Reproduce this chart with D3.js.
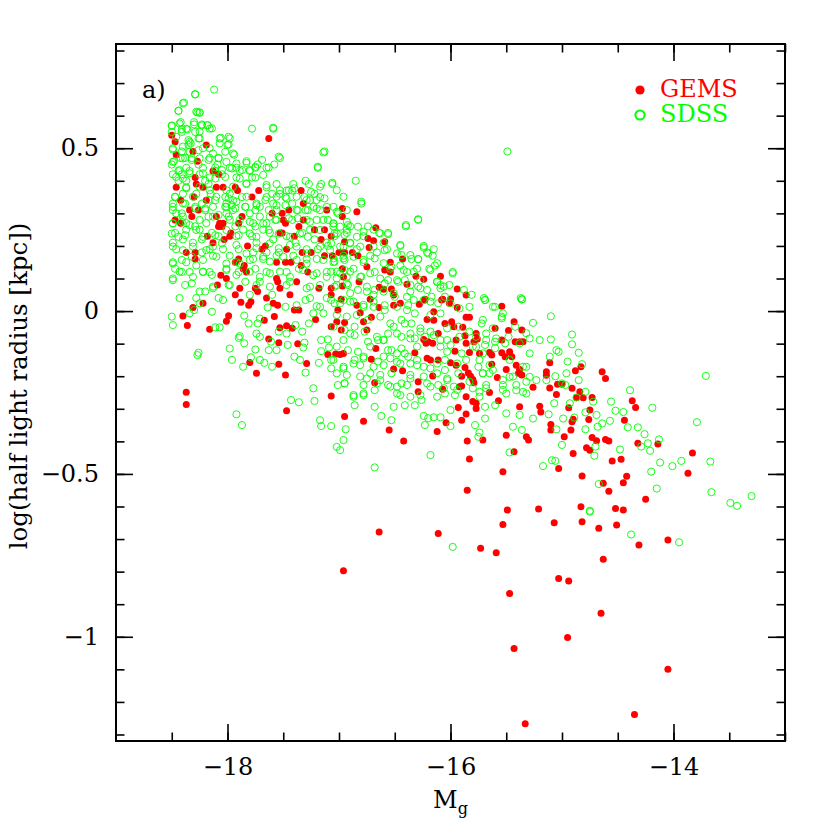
<!DOCTYPE html>
<html>
<head>
<meta charset="utf-8">
<script src="https://cdn.jsdelivr.net/npm/d3@7"></script>
<style>
  body { margin: 0; background: #fff; }
  svg { display: block; }
  text { font-family: "DejaVu Serif", serif; }
</style>
</head>
<body>
<div id="chart"></div>
<script>
// GEMS galaxies: [Mg, log r_half]
var gems = [
  [-18.50,0.54],[-18.47,0.52],[-18.46,0.48],[-18.31,0.49],[-18.19,0.51],[-17.63,0.53],[-18.27,0.46],[-18.13,0.43],[-18.08,0.42],[-18.29,0.41],
  [-18.28,0.39],[-18.46,0.38],[-18.22,0.38],[-18.10,0.38],[-18.04,0.38],[-17.93,0.38],[-17.91,0.37],[-17.72,0.37],[-17.78,0.35],[-18.42,0.34],
  [-18.30,0.35],[-18.19,0.34],[-18.34,0.31],[-18.26,0.31],[-18.32,0.29],[-18.47,0.28],[-18.42,0.27],[-18.10,0.29],[-18.07,0.27],[-18.04,0.27],
  [-18.08,0.26],[-18.05,0.26],[-17.90,0.27],[-17.87,0.29],[-17.60,0.30],[-17.51,0.30],[-17.48,0.27],[-17.50,0.28],[-17.45,0.31],[-17.32,0.33],
  [-17.34,0.37],[-17.11,0.31],[-17.36,0.26],[-17.40,0.23],[-17.32,0.28],[-17.51,0.24],[-17.53,0.24],[-17.97,0.24],[-18.03,0.22],[-17.98,0.23],
  [-18.18,0.23],[-18.13,0.21],[-17.82,0.20],[-17.66,0.20],[-17.69,0.19],[-18.37,0.18],[-18.29,0.18],[-18.29,0.16],[-17.47,0.19],[-17.33,0.18],
  [-17.25,0.18],[-17.22,0.25],[-17.13,0.25],[-17.16,0.22],[-17.07,0.23],[-17.13,0.17],[-17.06,0.17],[-17.56,0.15],[-17.48,0.15],[-17.43,0.15],
  [-17.34,0.14],[-17.28,0.12],[-17.93,0.15],[-17.90,0.16],[-17.85,0.14],[-17.86,0.13],[-17.83,0.12],[-18.06,0.11],[-18.01,0.10],[-18.09,0.08],
  [-17.56,0.10],[-17.55,0.09],[-17.38,0.09],[-17.18,0.07],[-17.07,0.07],[-17.07,0.05],[-17.89,0.07],[-17.75,0.07],[-17.73,0.06],[-17.93,0.05],
  [-17.65,0.04],[-17.53,0.07],[-17.44,0.05],
  [-16.97,0.315],[-16.97,0.29],[-16.84,0.305],[-16.67,0.256],[-16.74,0.223],[-16.69,0.216],[-16.59,0.213],[-16.73,0.195],[-16.95,0.213],[-17.00,0.18],
  [-16.95,0.18],[-16.88,0.18],[-16.83,0.17],[-16.54,0.15],[-16.43,0.16],[-16.75,0.136],[-16.97,0.13],[-16.59,0.126],[-16.54,0.12],[-16.96,0.105],
  [-16.82,0.09],[-16.31,0.107],[-16.24,0.098],[-16.09,0.107],[-16.39,0.082],[-16.97,0.077],[-16.64,0.073],[-16.60,0.067],[-16.53,0.068],[-16.51,0.049],
  [-15.94,0.068],[-15.86,0.049],[-16.23,0.036],[-16.07,0.036],[-16.00,0.037],[-16.72,0.036],[-16.98,0.036],
  [-18.40,-0.015],[-18.31,0.011],[-18.22,0.024],[-18.36,-0.044],[-18.16,-0.056],[-17.99,-0.014],[-18.01,-0.031],[-17.88,0.027],[-17.81,0.018],[-17.79,0.029],
  [-17.67,-0.028],[-17.59,0.024],[-17.55,0.018],[-17.58,-0.017],[-17.63,-0.086],[-17.54,-0.097],[-17.53,-0.051],[-17.47,-0.045],[-17.42,-0.053],[-17.40,0.003],
  [-17.36,0.003],[-17.21,-0.026],[-17.37,-0.10],[-17.29,-0.161],[-17.54,-0.163],[-17.48,-0.196],[-17.74,-0.191],[-17.80,-0.158],[-18.37,-0.249],[-18.37,-0.287],
  [-17.47,-0.306],[-17.07,-0.261],[-17.10,-0.133],[-17.03,-0.132],[-17.07,-0.048],[-17.02,-0.033],[-17.01,0.003],
  [-16.84,0.018],[-16.81,-0.005],[-16.71,-0.019],[-16.64,0.011],[-16.51,0.018],[-16.45,0.024],[-16.28,0.021],[-16.23,0.034],[-16.08,0.034],[-16.01,0.024],
  [-15.94,0.011],[-15.54,0.015],[-16.95,-0.035],[-16.98,-0.058],[-16.75,-0.058],[-16.78,-0.033],[-16.21,-0.026],[-16.15,-0.002],[-16.15,-0.028],[-16.05,-0.038],
  [-15.99,-0.033],[-15.97,-0.048],[-15.89,-0.05],[-15.86,-0.019],[-15.83,-0.019],[-16.11,-0.069],[-16.24,-0.087],[-16.20,-0.094],[-16.16,-0.099],[-16.22,-0.099],
  [-15.77,-0.069],[-15.87,-0.076],[-15.95,-0.089],[-15.86,-0.099],[-15.79,-0.094],[-15.76,-0.086],[-15.60,-0.053],[-15.48,-0.06],[-15.43,-0.033],[-15.36,-0.058],
  [-15.54,-0.089],[-15.42,-0.094],[-15.38,-0.094],[-15.35,-0.094],[-16.67,-0.115],[-16.32,-0.128],[-16.21,-0.145],[-16.18,-0.15],[-16.11,-0.15],[-15.96,-0.123],
  [-15.83,-0.127],[-15.74,-0.13],[-15.65,-0.127],[-15.63,-0.135],[-15.54,-0.128],[-15.47,-0.125],[-15.45,-0.14],[-15.51,-0.14],[-16.96,-0.13],[-16.99,-0.133],
  [-16.71,-0.148],[-16.00,-0.159],[-15.95,-0.166],[-15.87,-0.173],[-16.51,-0.178],[-16.43,-0.183],[-15.63,-0.163],[-15.50,-0.179],[-15.41,-0.166],[-15.38,-0.179],
  [-15.39,-0.191],[-15.36,-0.196],[-15.84,-0.19],[-15.82,-0.2],[-15.80,-0.21],[-15.90,-0.2],[-15.79,-0.22],[-15.58,-0.204],[-15.26,-0.234],[-16.68,-0.22],
  [-16.29,-0.217],[-16.16,-0.199],[-15.92,-0.232],[-15.90,-0.23],[-16.07,-0.24],[-16.29,-0.248],[-15.86,-0.263],[-15.65,-0.25],[-15.57,-0.275],[-15.80,-0.278],
  [-15.77,-0.283],[-15.77,-0.299],[-15.93,-0.296],[-15.86,-0.316],[-15.90,-0.335],[-15.38,-0.294],[-16.95,-0.324],[-16.78,-0.338],[-16.55,-0.365],[-16.42,-0.399],
  [-16.12,-0.37],[-16.04,-0.343],[-15.85,-0.399],[-15.71,-0.396],[-15.50,-0.381],[-15.32,-0.386],[-15.30,-0.396],[-15.43,-0.432],[-15.83,-0.454],[-15.53,-0.493],
  [-15.85,-0.55],[-15.49,-0.611],[-15.21,-0.608],
  [-15.11,-0.159],[-15.14,-0.186],[-15.14,-0.197],[-15.11,-0.236],[-15.04,-0.225],[-15.00,-0.225],[-15.05,-0.256],[-15.20,-0.292],[-15.19,-0.31],[-15.10,-0.348],
  [-15.10,-0.365],[-14.98,-0.386],[-14.91,-0.237],[-14.88,-0.183],[-14.83,-0.171],[-14.87,-0.266],[-14.84,-0.248],[-14.81,-0.266],[-14.73,-0.265],[-14.94,-0.297],
  [-14.75,-0.304],[-14.76,-0.333],[-14.91,-0.34],[-14.90,-0.332],[-14.92,-0.365],[-14.64,-0.186],[-14.61,-0.207],[-14.37,-0.275],[-14.34,-0.296],[-14.44,-0.335],
  [-14.73,-0.388],[-14.69,-0.398],[-14.61,-0.394],[-14.58,-0.399],[-14.78,-0.42],[-14.75,-0.427],[-14.90,-0.437],[-14.32,-0.406],[-14.14,-0.408],[-13.83,-0.436],
  [-14.55,-0.46],[-14.47,-0.455],[-15.03,-0.483],[-14.82,-0.506],[-13.87,-0.498],[-14.42,-0.507],[-14.45,-0.527],[-14.63,-0.529],[-14.58,-0.553],[-14.25,-0.578],
  [-14.83,-0.601],[-14.52,-0.606],[-14.45,-0.611],
  [-16.64,-0.678],[-16.11,-0.683],[-16.96,-0.797],[-15.53,-0.655],[-15.07,-0.65],[-14.82,-0.647],[-14.67,-0.667],[-14.51,-0.657],[-15.73,-0.728],[-15.59,-0.742],
  [-14.31,-0.718],[-14.05,-0.703],[-14.63,-0.762],[-15.03,-0.821],[-14.94,-0.829],[-15.47,-0.867],[-14.65,-0.928],[-14.95,-1.002],[-15.43,-1.036],[-14.05,-1.10],
  [-14.35,-1.239],[-15.33,-1.267]
];

// SDSS galaxies: [Mg, log r_half]
var sdss = [
  [-18.12,0.68],[-18.29,0.665],[-18.39,0.64],[-18.44,0.615],[-18.27,0.61],[-18.25,0.61],[-18.50,0.57],[-18.42,0.58],[-18.30,0.58],[-18.23,0.57],
  [-18.18,0.57],[-18.37,0.56],[-18.41,0.55],[-18.29,0.55],[-18.16,0.56],[-17.78,0.56],[-17.59,0.56],[-18.50,0.55],[-18.07,0.53],[-17.98,0.53],
  [-18.34,0.52],[-18.26,0.53],[-18.00,0.51],[-18.49,0.50],[-18.41,0.49],[-18.35,0.51],[-18.22,0.50],[-17.94,0.48],[-17.53,0.47],[-17.13,0.49],
  [-17.19,0.44],[-18.48,0.46],[-18.42,0.47],[-18.38,0.47],[-18.32,0.47],[-18.16,0.47],[-18.08,0.47],[-18.50,0.45],[-18.26,0.45],[-18.22,0.44],
  [-18.09,0.45],[-18.37,0.44],[-17.92,0.44],[-17.83,0.46],[-17.75,0.44],[-17.65,0.44],[-17.58,0.45],[-17.73,0.45],[-17.98,0.44],[-18.11,0.43],
  [-18.05,0.42],[-18.44,0.43],[-18.34,0.43],[-18.49,0.42],[-18.41,0.42],[-18.25,0.42],[-18.16,0.41],[-17.89,0.43],[-17.80,0.43],[-18.44,0.40],
  [-18.37,0.40],[-18.20,0.40],[-17.92,0.41],[-17.75,0.41],[-18.37,0.38],[-18.17,0.39],[-17.83,0.39],[-17.65,0.38],[-17.56,0.39],[-17.41,0.39],
  [-17.47,0.37],[-17.27,0.39],[-17.16,0.39],[-17.06,0.39],[-18.47,0.35],[-18.40,0.36],[-18.28,0.36],[-18.15,0.36],[-18.02,0.35],[-17.98,0.36],
  [-17.60,0.36],[-17.53,0.36],[-17.42,0.37],[-17.22,0.36],[-17.17,0.35],[-18.49,0.33],[-18.23,0.33],[-18.11,0.34],[-18.01,0.33],[-17.95,0.34],
  [-17.87,0.35],[-17.74,0.33],[-17.65,0.35],[-17.48,0.35],[-17.31,0.35],[-17.26,0.34],[-18.49,0.32],[-18.38,0.33],[-18.29,0.32],[-18.13,0.32],
  [-18.02,0.32],[-17.95,0.31],[-17.84,0.32],[-17.75,0.31],[-17.59,0.33],[-17.42,0.33],[-17.23,0.32],[-17.05,0.32],[-18.46,0.30],[-18.40,0.29],
  [-18.20,0.31],[-18.13,0.29],[-18.01,0.30],[-17.80,0.30],[-17.71,0.29],[-17.56,0.31],[-17.38,0.31],[-17.28,0.31],[-17.17,0.31],[-17.01,0.30],
  [-18.49,0.27],[-18.37,0.27],[-18.29,0.26],[-18.19,0.27],[-17.98,0.28],[-17.93,0.26],[-17.77,0.27],[-17.65,0.27],[-17.57,0.28],[-17.42,0.28],
  [-17.29,0.28],[-17.20,0.28],[-17.10,0.28],[-18.47,0.24],[-18.37,0.25],[-18.25,0.25],[-18.14,0.24],[-17.86,0.25],[-17.75,0.26],[-17.68,0.25],
  [-17.62,0.24],[-17.33,0.24],[-17.26,0.25],[-17.05,0.26],[-18.49,0.21],[-18.40,0.22],[-18.31,0.21],[-18.23,0.22],[-18.08,0.23],[-17.92,0.23],
  [-17.78,0.23],[-17.74,0.21],[-17.59,0.22],[-17.47,0.23],[-17.39,0.21],[-17.22,0.22],[-17.11,0.21],[-17.04,0.23],[-18.46,0.19],[-18.23,0.18],
  [-18.16,0.19],[-18.04,0.19],[-17.90,0.19],[-17.77,0.18],[-17.65,0.18],[-17.54,0.18],[-17.41,0.17],[-17.29,0.19],[-17.19,0.19],[-17.10,0.20],
  [-18.49,0.15],[-18.47,0.13],[-18.37,0.15],[-18.28,0.14],[-18.13,0.17],[-17.98,0.17],[-17.92,0.15],[-17.77,0.16],[-17.68,0.16],[-17.56,0.17],
  [-17.29,0.16],[-17.20,0.16],[-17.05,0.15],[-18.49,0.10],[-18.41,0.12],[-18.34,0.12],[-18.22,0.12],[-18.16,0.12],[-18.01,0.13],[-17.90,0.12],
  [-17.75,0.13],[-17.65,0.12],[-17.47,0.12],[-17.36,0.13],[-17.23,0.11],[-17.11,0.12],[-17.02,0.10],[-18.38,0.08],[-18.25,0.06],[-18.20,0.06],
  [-18.13,0.07],[-17.98,0.08],[-17.84,0.09],[-17.71,0.09],[-17.44,0.09],[-17.29,0.07],[-17.17,0.08],[-18.43,0.04],[-18.28,0.04],[-18.08,0.04],
  [-17.80,0.05],[-17.60,0.05],[-17.26,0.04],[-17.11,0.04],
  [-18.29,0.666],[-18.40,0.638],[-18.44,0.615],[-18.28,0.612],[-18.25,0.609],[-18.50,0.568],[-18.43,0.576],[-18.41,0.558],[-18.36,0.558],[-18.30,0.573],
  [-18.23,0.573],[-18.18,0.571],[-18.14,0.561],[-18.25,0.551],[-17.59,0.563],[-18.46,0.535],[-18.35,0.525],[-18.33,0.515],[-18.25,0.530],[-18.06,0.532],
  [-17.99,0.535],[-18.07,0.515],[-17.99,0.512],[-18.40,0.505],[-18.49,0.496],[-18.34,0.489],[-18.26,0.494],[-18.16,0.5],[-18.13,0.484],[-18.02,0.489],
  [-17.95,0.484],[-18.49,0.458],[-18.40,0.469],[-18.32,0.464],[-18.25,0.469],[-18.17,0.464],[-18.08,0.469],[-18.01,0.458],[-17.92,0.453],[-17.83,0.455],
  [-17.75,0.443],[-17.69,0.464],[-17.63,0.441],[-17.54,0.474],[-17.19,0.443],[-17.14,0.487],[-17.96,0.438],[-18.05,0.433],[-18.11,0.441],[-18.43,0.433],
  [-18.46,0.412],[-18.34,0.423],[-18.40,0.407],[-18.22,0.423],[-18.11,0.407],[-18.02,0.412],[-17.87,0.433],[-17.80,0.433],[-17.68,0.418],[-17.89,0.407],
  [-17.78,0.410],[-17.83,0.392],[-17.65,0.387],[-17.30,0.40],[-17.06,0.394],[-17.25,0.366],[-17.17,0.382],[-17.53,0.371],[-17.45,0.371],[-17.40,0.377],
  [-17.56,0.351],[-17.47,0.346],[-17.38,0.351],[-17.29,0.341],[-17.20,0.341],[-17.13,0.346],[-17.02,0.371],[-16.96,0.351],[-18.37,0.377],[-18.25,0.382],
  [-18.16,0.371],[-18.01,0.371],[-17.95,0.382],[-18.47,0.351],[-18.40,0.331],[-18.31,0.351],[-18.17,0.341],[-18.10,0.351],[-17.99,0.346],[-17.92,0.336],
  [-17.83,0.351],[-17.74,0.325],[-17.66,0.341],[-18.49,0.310],[-18.41,0.30],[-18.29,0.315],[-18.20,0.315],[-18.01,0.320],[-17.96,0.325],[-17.93,0.315],
  [-17.84,0.320],[-17.71,0.320],[-17.63,0.310],[-17.56,0.325],[-17.48,0.325],[-17.37,0.310],[-17.30,0.310],[-17.20,0.315],[-17.11,0.320],[-17.02,0.305],
  [-16.93,0.310],[-18.49,0.269],[-18.41,0.274],[-18.34,0.264],[-18.25,0.28],[-18.17,0.29],[-18.08,0.295],[-17.99,0.29],[-17.89,0.28],[-17.80,0.274],
  [-17.68,0.269],[-17.62,0.29],[-17.56,0.28],[-17.45,0.285],[-17.37,0.285],[-17.26,0.274],[-17.14,0.28],[-17.05,0.269],[-16.93,0.274],[-18.50,0.238],
  [-18.44,0.228],[-18.38,0.233],[-18.28,0.249],[-18.22,0.228],[-18.11,0.233],[-18.01,0.249],[-17.90,0.233],[-17.80,0.238],[-17.74,0.228],[-17.63,0.249],
  [-17.54,0.238],[-17.44,0.228],[-17.35,0.238],[-17.28,0.228],[-17.17,0.249],[-17.02,0.238],[-16.93,0.249],[-18.49,0.198],[-18.40,0.187],[-18.31,0.198],
  [-18.19,0.187],[-18.13,0.198],[-18.05,0.208],[-17.92,0.203],[-17.83,0.177],[-17.74,0.193],[-17.62,0.208],[-17.54,0.193],[-17.44,0.203],[-17.38,0.198],
  [-17.29,0.177],[-17.17,0.198],[-17.08,0.187],[-16.96,0.198],[-18.49,0.146],[-18.41,0.157],[-18.32,0.167],[-18.22,0.157],[-18.10,0.167],[-18.01,0.146],
  [-17.89,0.146],[-17.80,0.157],[-17.68,0.167],[-17.62,0.152],[-17.50,0.167],[-17.38,0.157],[-17.29,0.146],[-17.14,0.157],[-17.04,0.152],[-16.95,0.157],
  [-18.49,0.095],[-18.43,0.121],[-18.31,0.105],[-18.22,0.121],[-18.14,0.111],[-18.01,0.126],[-17.92,0.111],[-17.80,0.121],[-17.71,0.105],[-17.62,0.116],
  [-17.53,0.121],[-17.44,0.105],[-17.32,0.126],[-17.20,0.116],[-17.11,0.105],[-17.02,0.121],[-16.93,0.105],[-18.32,0.085],[-18.13,0.075],[-17.99,0.08],
  [-17.74,0.08],[-17.62,0.075],[-17.47,0.08],[-17.26,0.075],[-17.02,0.08],
  [-15.49,0.49],[-16.85,0.40],[-16.80,0.33],[-16.29,0.28],[-16.40,0.26],[-16.74,0.26],[-16.56,0.24],[-16.64,0.24],[-16.45,0.20],[-16.24,0.20],
  [-16.15,0.19],[-16.21,0.18],[-16.16,0.17],[-16.35,0.16],[-16.29,0.16],[-16.14,0.14],[-16.19,0.13],[-16.30,0.13],[-16.39,0.12],[-15.98,0.12],
  [-16.12,0.09],[-16.09,0.07],[-16.27,0.07],[-16.01,0.08],[-15.88,0.065],[-15.81,0.05],[-15.70,0.04],[-15.37,0.04],[-16.90,0.26],[-16.93,0.24],
  [-16.78,0.23],[-16.69,0.25],[-16.60,0.21],[-16.66,0.18],[-16.57,0.19],[-16.72,0.17],[-16.84,0.19],[-16.90,0.21],[-16.96,0.17],[-16.78,0.15],
  [-16.87,0.13],[-16.68,0.12],[-16.54,0.13],[-16.48,0.095],[-16.59,0.085],[-16.75,0.075],[-16.93,0.085],[-16.90,0.055],[-16.69,0.05],[-16.51,0.055],
  [-16.36,0.06],[-16.45,0.14],[-16.41,0.095],[-16.95,0.126],[-16.81,0.105],
  [-16.80,0.336],[-17.05,0.269],[-16.99,0.259],[-16.92,0.264],[-16.83,0.259],[-17.04,0.239],[-16.95,0.234],[-16.84,0.228],[-16.78,0.244],[-16.63,0.239],
  [-16.56,0.236],[-16.40,0.264],[-16.29,0.282],[-16.45,0.203],[-17.07,0.208],[-16.99,0.198],[-16.90,0.208],[-16.81,0.198],[-16.69,0.198],[-16.59,0.187],
  [-16.48,0.177],[-16.36,0.172],[-16.29,0.159],[-16.24,0.195],[-16.20,0.177],[-16.12,0.147],[-16.18,0.126],[-16.44,0.172],[-17.05,0.162],[-16.96,0.162],
  [-16.87,0.167],[-16.78,0.157],[-16.68,0.162],[-16.60,0.147],[-16.53,0.136],[-16.42,0.126],[-16.33,0.121],[-16.27,0.095],[-16.12,0.090],[-16.09,0.080],
  [-15.98,0.116],[-16.06,0.075],[-17.07,0.121],[-16.99,0.116],[-16.90,0.121],[-16.80,0.106],[-16.72,0.116],[-16.63,0.10],[-16.56,0.095],[-16.47,0.09],
  [-16.36,0.08],[-16.29,0.075],[-16.21,0.065],[-17.04,0.075],[-16.92,0.08],[-16.83,0.065],[-16.75,0.06],[-16.68,0.065],[-16.60,0.06],[-16.50,0.044],
  [-16.39,0.044],[-16.33,0.034],[-16.24,0.034],[-16.17,0.044],[-16.05,0.044],[-16.00,0.024],[-15.69,0.034],[-15.36,0.036],[-17.07,0.034],[-16.96,0.034],
  [-16.87,0.029],[-16.78,0.019],[-16.69,0.013],[-16.59,0.003],[-16.48,0.013],[-16.39,0.003],[-16.32,-0.007],[-16.18,-0.012],[-16.09,-0.007],[-15.92,0.008],
  [-15.83,0.013],[-15.62,0.013],[-15.53,-0.007],[-17.02,-0.012],[-16.93,-0.017],[-16.84,-0.012],[-16.74,-0.027],[-16.63,-0.017],[-16.54,-0.038],[-16.44,-0.027],
  [-16.35,-0.038],[-16.27,-0.053],[-16.18,-0.063],[-16.03,-0.053],[-15.93,-0.048],[-15.83,-0.063],[-15.71,-0.027],[-15.62,-0.053],[-15.54,-0.022],[-15.42,-0.048],
  [-17.05,-0.048],[-16.95,-0.058],[-16.86,-0.074],[-16.77,-0.063],[-16.66,-0.079],[-16.60,-0.089],[-16.51,-0.048],[-16.44,-0.079],[-16.36,-0.084],[-16.30,-0.109],
  [-16.23,-0.079],[-16.15,-0.074],[-16.09,-0.089],[-15.92,-0.079],[-15.77,-0.079],[-15.68,-0.089],[-15.59,-0.084],[-15.48,-0.079],[-15.32,-0.068],[-17.02,-0.109],
  [-16.92,-0.12],[-16.83,-0.125],[-16.72,-0.109],[-16.56,-0.12],[-16.48,-0.13],[-16.41,-0.13],[-16.30,-0.15],[-16.09,-0.109],[-16.03,-0.125],[-15.90,-0.13],
  [-15.80,-0.109],[-15.71,-0.13],[-15.60,-0.114],[-15.51,-0.099],[-15.38,-0.099],[-17.05,-0.15],[-16.96,-0.171],[-16.87,-0.161],[-16.78,-0.145],[-16.65,-0.155],
  [-16.54,-0.145],[-16.45,-0.161],[-16.36,-0.161],[-16.24,-0.171],[-16.12,-0.161],[-16.05,-0.15],[-15.94,-0.161],[-15.86,-0.15],[-15.74,-0.15],[-15.65,-0.166],
  [-15.47,-0.15],[-15.35,-0.171],[-17.02,-0.191],[-16.93,-0.196],[-16.81,-0.201],[-16.72,-0.191],[-16.63,-0.196],[-16.53,-0.191],[-16.36,-0.196],[-16.24,-0.201],
  [-16.12,-0.191],[-16.03,-0.207],[-15.93,-0.191],[-15.83,-0.217],[-15.71,-0.191],[-15.62,-0.181],[-15.53,-0.212],[-15.44,-0.201],[-15.32,-0.217],[-16.95,-0.222],
  [-16.78,-0.227],[-16.66,-0.222],[-16.56,-0.227],[-16.48,-0.232],[-16.39,-0.227],[-16.18,-0.232],[-16.06,-0.237],[-15.94,-0.242],[-15.80,-0.237],[-15.68,-0.237],
  [-15.53,-0.242],[-15.41,-0.227],[-16.87,-0.258],[-16.78,-0.253],[-16.45,-0.258],[-16.27,-0.258],[-15.96,-0.258],[-15.74,-0.263],[-15.50,-0.253],[-15.35,-0.248],
  [-18.50,-0.017],[-18.49,-0.043],[-18.34,-0.007],[-18.30,0.003],[-18.14,-0.002],[-18.07,-0.05],[-18.11,-0.05],[-17.89,-0.077],[-17.90,-0.082],[-17.85,-0.099],
  [-17.98,-0.115],[-17.75,-0.118],[-17.96,-0.15],[-17.79,-0.142],[-17.71,-0.15],[-17.67,-0.159],[-17.60,-0.171],[-17.86,-0.171],[-18.26,-0.128],[-18.27,-0.135],
  [-17.71,-0.079],[-17.63,-0.12],[-17.56,-0.12],[-17.54,-0.063],[-17.46,-0.104],[-17.40,-0.14],[-17.35,-0.15],[-17.32,-0.112],[-17.31,-0.097],[-17.39,-0.043],
  [-17.33,-0.063],[-17.27,-0.038],[-17.23,-0.007],[-17.17,0.013],[-17.16,-0.089],[-17.10,-0.087],[-17.16,-0.123],[-17.09,-0.112],[-17.07,-0.15],[-17.18,-0.159],
  [-17.07,-0.176],[-17.30,-0.189],[-17.23,-0.237],[-17.22,-0.276],[-17.43,-0.273],[-17.36,-0.28],[-17.92,-0.317],[-17.87,-0.35],[-17.17,-0.335],[-17.16,-0.353],
  [-17.07,-0.353],[-17.02,-0.417],[-17.01,-0.227],[-17.81,-0.038],[-17.73,-0.038],[-17.71,-0.023],[-17.64,0.011],[-17.48,0.013],[-17.38,0.018],[-17.30,0.034],
  [-17.20,0.015],[-17.14,-0.007],[-17.04,0.024],[-18.25,0.024],[-18.04,0.034],[-17.85,-0.014],[-17.74,-0.069],[-17.47,-0.069],[-17.61,-0.094],
  [-16.99,0.024],[-16.90,0.029],[-16.78,0.013],[-16.69,0.029],[-16.59,0.018],[-16.38,0.018],[-16.18,0.029],[-16.11,0.024],[-15.69,0.034],[-15.60,0.013],
  [-15.36,0.036],[-15.54,-0.017],[-15.26,-0.036],[-15.29,-0.084],[-15.20,-0.089],[-15.72,-0.038],[-15.68,-0.069],[-15.69,-0.104],[-15.77,-0.11],[-15.60,-0.094],
  [-16.90,-0.069],[-16.86,-0.048],[-16.96,-0.089],[-16.74,-0.094],[-16.65,-0.089],[-16.60,-0.089],[-16.56,-0.069],[-16.48,-0.069],[-16.41,-0.038],[-16.36,-0.069],
  [-16.32,-0.084],[-16.27,-0.063],[-16.03,-0.089],[-16.00,-0.104],[-16.53,-0.12],[-16.44,-0.115],[-16.38,-0.14],[-16.60,-0.14],[-16.78,-0.14],[-16.86,-0.15],
  [-16.96,-0.176],[-16.81,-0.166],[-16.69,-0.171],[-16.60,-0.166],[-16.48,-0.156],[-16.30,-0.166],[-16.18,-0.176],[-16.05,-0.181],[-15.75,-0.171],[-15.71,-0.191],
  [-15.65,-0.191],[-15.47,-0.202],[-15.29,-0.202],[-15.23,-0.212],[-15.29,-0.13],[-15.32,-0.171],[-16.95,-0.222],[-16.75,-0.207],[-16.63,-0.212],[-16.54,-0.232],
  [-16.44,-0.222],[-16.36,-0.207],[-16.21,-0.222],[-16.11,-0.227],[-16.03,-0.212],[-15.97,-0.232],[-15.74,-0.248],[-15.68,-0.227],[-15.53,-0.227],[-15.41,-0.243],
  [-15.32,-0.253],[-16.87,-0.263],[-16.78,-0.258],[-16.68,-0.243],[-16.48,-0.253],[-16.36,-0.263],[-16.26,-0.273],[-16.12,-0.263],[-16.05,-0.253],[-16.86,-0.289],
  [-16.68,-0.294],[-16.51,-0.294],[-16.41,-0.289],[-16.32,-0.289],[-16.00,-0.304],[-15.69,-0.294],[-15.60,-0.289],[-15.50,-0.314],[-15.38,-0.319],[-15.26,-0.33],
  [-16.62,-0.322],[-16.53,-0.335],[-16.24,-0.322],[-16.20,-0.329],[-16.15,-0.326],[-16.09,-0.326],[-16.23,-0.35],[-16.00,-0.353],[-15.78,-0.35],[-15.74,-0.373],
  [-15.75,-0.386],[-15.69,-0.33],[-15.44,-0.355],[-15.36,-0.365],[-16.94,-0.363],[-16.96,-0.396],[-16.99,-0.427],[-16.18,-0.442],[-16.68,-0.48],[-15.47,-0.434],
  [-15.10,-0.016],[-14.91,-0.072],[-15.10,-0.087],[-14.91,-0.102],[-15.05,-0.12],[-15.03,-0.125],[-14.85,-0.128],[-14.95,-0.155],[-14.82,-0.163],[-15.11,-0.14],
  [-15.06,-0.20],[-14.96,-0.191],[-14.85,-0.212],[-15.00,-0.222],[-14.97,-0.227],[-15.14,-0.212],[-14.79,-0.248],[-14.72,-0.278],[-14.87,-0.265],[-14.93,-0.283],
  [-15.07,-0.283],[-15.12,-0.317],[-14.99,-0.33],[-14.89,-0.327],[-14.79,-0.311],[-14.69,-0.319],[-14.56,-0.278],[-14.52,-0.306],[-14.45,-0.31],[-14.57,-0.337],
  [-14.64,-0.345],[-14.68,-0.355],[-14.79,-0.363],[-15.05,-0.363],[-14.41,-0.357],[-14.32,-0.357],[-14.26,-0.378],[-14.39,-0.243],[-14.19,-0.297],[-14.13,-0.394],
  [-13.71,-0.199],[-13.79,-0.341],[-15.00,-0.411],[-14.70,-0.416],[-14.71,-0.444],[-14.48,-0.425],[-14.29,-0.416],[-14.23,-0.406],[-14.21,-0.429],[-14.12,-0.465],
  [-14.01,-0.476],[-13.93,-0.46],[-13.67,-0.462],[-14.20,-0.493],[-14.15,-0.545],[-13.66,-0.556],[-13.49,-0.589],[-13.43,-0.598],[-13.30,-0.568],[-14.67,-0.531],
  [-14.75,-0.613],[-15.09,-0.458],[-15.06,-0.46],[-15.17,-0.476],
  [-15.98,-0.724],[-14.38,-0.686],[-13.95,-0.71],[-14.75,-0.616]
];

var xTickLabels = [-18, -16, -14];
var yTickLabels = [0.5, 0, -0.5, -1];
var legendNames = ["GEMS", "SDSS"];
var legendColors = ["#ff0000", "#00ff00"];

var width = 830, height = 830;
var plotLeft = 116, plotRight = 785, plotTop = 44, plotBottom = 741;

var svg = d3.select("#chart").append("svg")
    .attr("width", width)
    .attr("height", height);

var x = d3.scaleLinear().domain([-19, -13]).range([plotLeft, plotRight]);
var y = d3.scaleLinear().domain([-1.32, 0.82]).range([plotBottom, plotTop]);

var xMinor = d3.range(-37, -25).map(function(k){ return k / 2; });
var yMinor = d3.range(-13, 9).map(function(k){ return k / 10; });

// ticks point inwards on all four sides
var minorAxes = [
  [d3.axisBottom(x), "translate(0," + plotBottom + ")", xMinor],
  [d3.axisTop(x), "translate(0," + plotTop + ")", xMinor],
  [d3.axisLeft(y), "translate(" + plotLeft + ",0)", yMinor],
  [d3.axisRight(y), "translate(" + plotRight + ",0)", yMinor]
];

minorAxes.forEach(function(a){
  var ax = a[0].tickValues(a[2]).tickSize(-8.5).tickSizeOuter(0).tickFormat("");
  var g = svg.append("g").attr("transform", a[1]).call(ax);
  g.select(".domain").remove();
  g.selectAll("line").attr("stroke-width", 1.6);
});

var majorAxes = [
  [d3.axisBottom(x).tickValues(xTickLabels), "translate(0," + plotBottom + ")", true],
  [d3.axisTop(x).tickValues(xTickLabels), "translate(0," + plotTop + ")", false],
  [d3.axisLeft(y).tickValues(yTickLabels), "translate(" + plotLeft + ",0)", true],
  [d3.axisRight(y).tickValues(yTickLabels), "translate(" + plotRight + ",0)", false]
];

majorAxes.forEach(function(a){
  var ax = a[0].tickSize(-17).tickSizeOuter(0).tickPadding(17);
  if (!a[2]) ax.tickFormat("");
  else ax.tickFormat(d3.format(""));
  var g = svg.append("g").attr("transform", a[1]).call(ax);
  g.select(".domain").remove();
  g.selectAll("line").attr("stroke-width", 1.6);
  g.selectAll("text")
    .attr("font-family", "DejaVu Serif")
    .attr("font-size", 24)
    .attr("fill", "#000");
});

// GEMS first, SDSS rings on top
svg.append("g").selectAll("circle")
  .data(gems)
  .enter()
  .append("circle")
  .attr("cx", function(d){ return x(d[0]); })
  .attr("cy", function(d){ return y(d[1]); })
  .attr("r", 3.5)
  .attr("fill", "#ff0000");

svg.append("g").selectAll("circle")
  .data(sdss)
  .enter()
  .append("circle")
  .attr("cx", function(d){ return x(d[0]); })
  .attr("cy", function(d){ return y(d[1]); })
  .attr("r", 3.6)
  .attr("fill", "none")
  .attr("stroke", "#00ff00")
  .attr("stroke-width", 0.9);

// frame
svg.append("rect")
  .attr("x", plotLeft)
  .attr("y", plotTop)
  .attr("width", plotRight - plotLeft)
  .attr("height", plotBottom - plotTop)
  .attr("fill", "none")
  .attr("stroke", "#000")
  .attr("stroke-width", 2);

svg.append("text")
  .attr("x", 142)
  .attr("y", 98)
  .attr("font-size", 24)
  .text("a)");

// legend
var legend = svg.append("g");
legend.selectAll("circle")
  .data(legendNames)
  .enter()
  .append("circle")
  .attr("cx", 640)
  .attr("cy", function(d, i){ return 90 + i * 25; })
  .attr("r", 4.6)
  .attr("fill", function(d, i){ return i === 0 ? legendColors[0] : "none"; })
  .attr("stroke", function(d, i){ return i === 0 ? "none" : legendColors[1]; })
  .attr("stroke-width", 2);
legend.selectAll("text")
  .data(legendNames)
  .enter()
  .append("text")
  .attr("x", 660)
  .attr("y", function(d, i){ return 97 + i * 25; })
  .attr("font-family", "Liberation Serif")
  .attr("font-size", 24)
  .attr("fill", function(d, i){ return legendColors[i]; })
  .text(function(d){ return d; });

// axis titles
var xTitle = svg.append("text")
  .attr("x", (plotLeft + plotRight) / 2)
  .attr("y", 808)
  .attr("text-anchor", "middle")
  .attr("font-size", 24);
xTitle.append("tspan").text("M");
xTitle.append("tspan").attr("dy", 6).attr("font-size", 16).text("g");

svg.append("text")
  .attr("transform", "translate(27,386) rotate(-90)")
  .attr("text-anchor", "middle")
  .attr("font-size", 24.5)
  .text("log(half light radius [kpc])");
</script>
</body>
</html>
